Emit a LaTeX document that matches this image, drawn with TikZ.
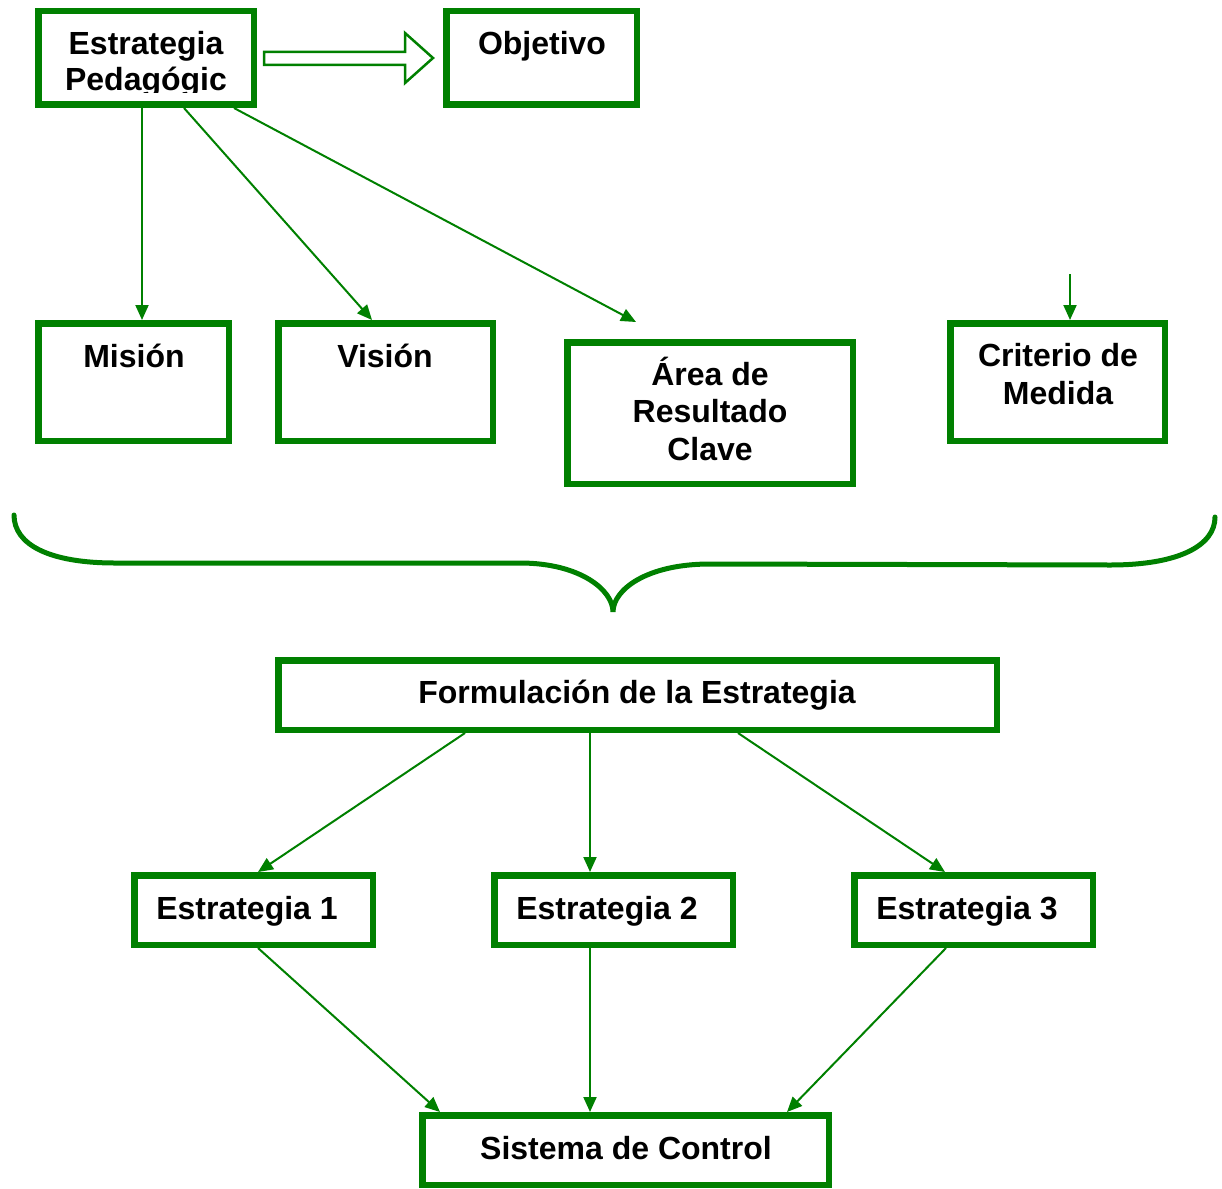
\documentclass[tikz,border=0pt]{standalone}
\usepackage{fontspec}
\setmainfont{Liberation Sans}
\usetikzlibrary{arrows.meta}
\definecolor{leaf}{HTML}{008000}
\begin{document}
\begin{tikzpicture}[x=1pt,y=-1pt,
  box/.style={draw=leaf,line width=6.5pt,fill=white,inner sep=0pt,rectangle},
  lbl/.style={font=\fontsize{32}{32}\selectfont\bfseries,inner sep=0pt,anchor=base,text=black},
  conn/.style={draw=leaf,line width=2pt,-{Triangle[length=15pt,width=13pt]}}]
\useasboundingbox (0,0) rectangle (1222,1188);

% boxes
\node[box,minimum width=215.5,minimum height=93.5] (ep) at (146,58) {};
\node[box,minimum width=190.5,minimum height=93.5] (obj) at (541.5,58) {};
\node[box,minimum width=190.5,minimum height=117.5] (mis) at (133.5,382) {};
\node[box,minimum width=214.5,minimum height=117.5] (vis) at (385.5,382) {};
\node[box,minimum width=285.5,minimum height=141.5] (area) at (710,413) {};
\node[box,minimum width=214.5,minimum height=117.5] (crit) at (1057.5,382) {};
\node[box,minimum width=718.5,minimum height=69.5] (form) at (637.5,695) {};
\node[box,minimum width=238.5,minimum height=69.5] (e1) at (253.5,910) {};
\node[box,minimum width=238.5,minimum height=69.5] (e2) at (613.5,910) {};
\node[box,minimum width=238.5,minimum height=69.5] (e3) at (973.5,910) {};
\node[box,minimum width=406.5,minimum height=69.5] (sc) at (625.5,1150) {};

% labels
\begin{scope}
  \clip (38,11) rectangle (254,93);
  \node[lbl] (t-ep1) at (146,55) {Estrategia};
  \node[lbl] (t-ep2) at (146,91) {Pedagógic};
\end{scope}
\node[lbl] (t-obj) at (542,55) {Objetivo};
\node[lbl] (t-mis) at (134,367) {Misión};
\node[lbl] (t-vis) at (385,367) {Visión};
\node[lbl] (t-ar1) at (710,385) {Área de};
\node[lbl] (t-ar2) at (710,422) {Resultado};
\node[lbl] (t-ar3) at (710,460) {Clave};
\node[lbl] (t-cr1) at (1058,366) {Criterio de};
\node[lbl] (t-cr2) at (1058,404) {Medida};
\node[lbl] (t-form) at (637,703) {Formulación de la Estrategia};
\node[lbl] (t-e1) at (247,919) {Estrategia 1};
\node[lbl] (t-e2) at (607,919) {Estrategia 2};
\node[lbl] (t-e3) at (967,919) {Estrategia 3};
\node[lbl] (t-sc) at (626,1159) {Sistema de Control};

% hollow block arrow towards the objective
\draw[leaf,line width=2.5pt,fill=white,line join=miter]
  (264,52) -- (405,52) -- (405,33) -- (433,58) -- (405,83) -- (405,65) -- (264,65) -- cycle;

% connectors from the pedagogical strategy
\coordinate (arHead) at (636,322);
\coordinate (crTail) at (1070,274);
\draw[conn] ([xshift=-4]ep.south) -- ([xshift=8.5]mis.north);
\draw[conn] ([xshift=38]ep.south) -- ([xshift=-13.5]vis.north);
\draw[conn] ([xshift=88]ep.south) -- (arHead);
\draw[conn] (crTail) -- ([xshift=12.5]crit.north);

% grouping brace
\draw[leaf,line width=5pt,line cap=round]
  (14,515) .. controls (14,545) and (50,563) .. (115,563) -- (520,563)
  .. controls (580,563) and (613,590) .. (613,612)
  .. controls (613,590) and (646,564) .. (710,564) -- (1110,565)
  .. controls (1180,565) and (1215,545) .. (1215,517);

% strategy formulation connectors
\draw[conn] ([xshift=-172.5]form.south) -- ([xshift=4.5]e1.north);
\draw[conn] ([xshift=-47.5]form.south) -- ([xshift=-23.5]e2.north);
\draw[conn] ([xshift=100.5]form.south) -- ([xshift=-28.5]e3.north);
\draw[conn] ([xshift=4.5]e1.south) -- ([xshift=-185.5]sc.north);
\draw[conn] ([xshift=-23.5]e2.south) -- ([xshift=-35.5]sc.north);
\draw[conn] ([xshift=-27.5]e3.south) -- ([xshift=161.5]sc.north);
\end{tikzpicture}
\end{document}
